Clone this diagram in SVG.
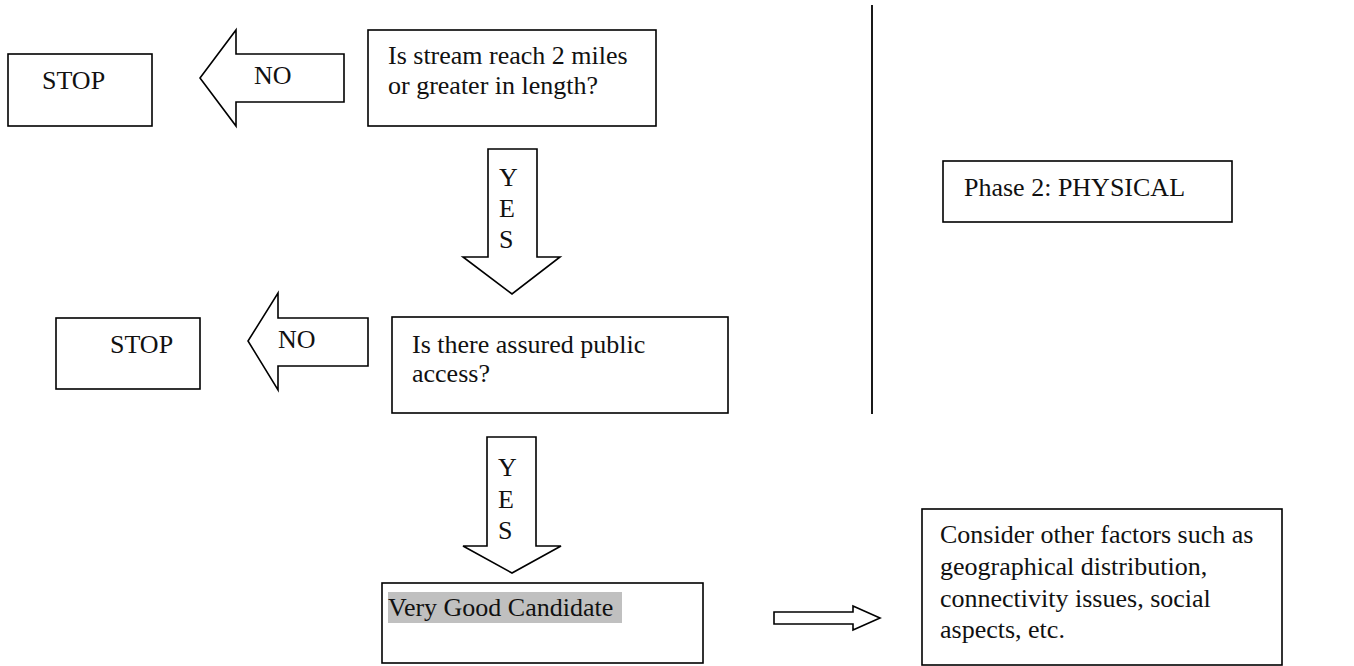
<svg xmlns="http://www.w3.org/2000/svg" width="1354" height="666" viewBox="0 0 1354 666">
<style>
.box{fill:#fff;stroke:#000;stroke-width:1.6}
.arrow{fill:#fff;stroke:#000;stroke-width:1.6;stroke-linejoin:miter}
.t{font-family:'Liberation Serif',Tinos,'Times New Roman',Times,'Noto Serif','DejaVu Serif',serif;font-size:26px;fill:#111}
.div{stroke:#000;stroke-width:1.8}
</style>
<rect width="1354" height="666" fill="#fff"/>
<g id="divider"><line class="div" x1="872" y1="5" x2="872" y2="414"/></g>
<g id="stop1"><rect class="box" x="8" y="54" width="144" height="72"/><text class="t" x="42" y="89">STOP</text></g>
<g id="q1"><rect class="box" x="368" y="30" width="288" height="96"/><text class="t" x="388" y="64">Is stream reach 2 miles</text><text class="t" x="388" y="94">or greater in length?</text></g>
<g id="stop2"><rect class="box" x="56" y="318" width="144" height="71"/><text class="t" x="110" y="353">STOP</text></g>
<g id="q2"><rect class="box" x="392" y="317" width="336" height="96"/><text class="t" x="412" y="353">Is there assured public</text><text class="t" x="412" y="382">access?</text></g>
<g id="candidate"><rect class="box" x="382" y="583" width="321" height="80"/><rect x="388" y="592" width="234" height="31" fill="#c0c0c0"/><text class="t" x="388" y="616">Very Good Candidate</text></g>
<g id="phase2"><rect class="box" x="943" y="161" width="289" height="61"/><text class="t" x="964" y="196">Phase 2: PHYSICAL</text></g>
<g id="consider"><rect class="box" x="922" y="509" width="360" height="156"/><text class="t" x="940" y="543">Consider other factors such as</text><text class="t" x="940" y="575">geographical distribution,</text><text class="t" x="940" y="607">connectivity issues, social</text><text class="t" x="940" y="638">aspects, etc.</text></g>
<g id="connectors">
<polygon class="arrow" points="344,54 236,54 236,30 200,78 236,126 236,102 344,102"/>
<text class="t" x="254" y="84">NO</text>
<polygon class="arrow" points="488,149 537,149 537,257 560,257 512,294 463,257 488,257"/>
<text class="t" x="499" y="186">Y</text><text class="t" x="499" y="217">E</text><text class="t" x="499" y="248">S</text>
<polygon class="arrow" points="368,318 278,318 278,293 248,341 278,390 278,366 368,366"/>
<text class="t" x="278" y="348">NO</text>
<polygon class="arrow" points="487,437 536,437 536,546 561,546 512,573 463,546 487,546"/>
<text class="t" x="498" y="476">Y</text><text class="t" x="498" y="508">E</text><text class="t" x="498" y="539">S</text>
<polygon class="arrow" points="774,612 853,612 853,606 880,618 853,630 853,624 774,624"/>
</g>
</svg>
